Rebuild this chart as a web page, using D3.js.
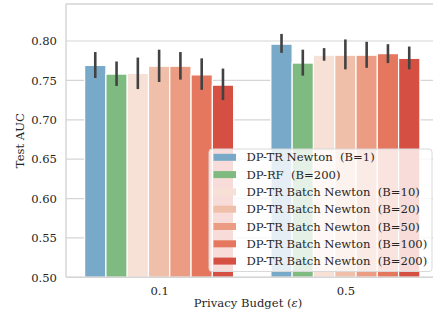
<!DOCTYPE html>
<html lang="en">
<head>
<meta charset="UTF-8">
<title>Test AUC by privacy budget</title>
<script src="https://d3js.org/d3.v7.min.js"></script>
<style>
    body { margin: 0; background: #fff; }
    text { font-family: "DejaVu Serif", serif; fill: #262626; }
</style>
</head>
<body>
<svg width="433" height="320"></svg>
<script>
    const budgets = ["0.1", "0.5"];
    const methods = [
        "DP-TR Newton  (B=1)",
        "DP-RF  (B=200)",
        "DP-TR Batch Newton  (B=10)",
        "DP-TR Batch Newton  (B=20)",
        "DP-TR Batch Newton  (B=50)",
        "DP-TR Batch Newton  (B=100)",
        "DP-TR Batch Newton  (B=200)"
    ];
    const colors = ["#78a9c8", "#7fba80", "#f7e0d5", "#f0bfaa", "#eb9c82", "#e5775f", "#d54f43"];

    // mean AUC and error bar ends, per budget
    const auc01 = [0.769, 0.758, 0.759, 0.768, 0.768, 0.757, 0.744];
    const lo01 = [0.753, 0.743, 0.739, 0.748, 0.751, 0.738, 0.725];
    const hi01 = [0.786, 0.774, 0.779, 0.789, 0.786, 0.778, 0.765];
    const auc05 = [0.796, 0.772, 0.782, 0.782, 0.782, 0.784, 0.778];
    const lo05 = [0.785, 0.756, 0.775, 0.764, 0.766, 0.772, 0.764];
    const hi05 = [0.809, 0.789, 0.791, 0.802, 0.799, 0.796, 0.793];
    const yTicks = [0.50, 0.55, 0.60, 0.65, 0.70, 0.75, 0.80];

    const rows = [];
    methods.forEach((m, i) => {
        rows.push({ budget: "0.1", method: m, i, v: auc01[i], lo: lo01[i], hi: hi01[i] });
        rows.push({ budget: "0.5", method: m, i, v: auc05[i], lo: lo05[i], hi: hi05[i] });
    });

    const margin = { left: 66, right: 438.5, top: 4, bottom: 277.3 };
    const svg = d3.select("svg");

    const x = d3.scalePoint().domain(budgets).range([margin.left, margin.right]).padding(0.5);
    const step = x.step();
    const xi = d3.scaleBand().domain(methods).range([-0.4 * step, 0.4 * step]);
    const y = d3.scaleLinear().domain([0.5, 0.847]).range([margin.bottom, margin.top]);

    // grid
    svg.append("g").selectAll("line").data(yTicks).join("line")
        .attr("x1", margin.left).attr("x2", 433)
        .attr("y1", d => y(d)).attr("y2", d => y(d))
        .attr("stroke", "#d5d5d5").attr("stroke-width", 1.2);

    // bars
    svg.append("g").selectAll("rect").data(rows).join("rect")
        .attr("x", d => x(d.budget) + xi(d.method))
        .attr("width", xi.bandwidth())
        .attr("y", d => y(d.v))
        .attr("height", d => y(0.5) - y(d.v))
        .attr("fill", d => colors[d.i])
        .attr("stroke", "#fff").attr("stroke-width", 1.2);

    // error bars
    svg.append("g").selectAll("line").data(rows).join("line")
        .attr("x1", d => x(d.budget) + xi(d.method) + xi.bandwidth() / 2)
        .attr("x2", d => x(d.budget) + xi(d.method) + xi.bandwidth() / 2)
        .attr("y1", d => y(d.lo)).attr("y2", d => y(d.hi))
        .attr("stroke", "#424242").attr("stroke-width", 2.6);

    // spines
    const sp = svg.append("g").attr("stroke", "#d5d5d5").attr("stroke-width", 1.4).attr("fill", "none");
    sp.append("line").attr("x1", margin.left).attr("x2", margin.left).attr("y1", margin.top).attr("y2", margin.bottom);
    sp.append("line").attr("x1", margin.left).attr("x2", 433).attr("y1", margin.bottom).attr("y2", margin.bottom);
    sp.append("line").attr("x1", margin.left).attr("x2", 433).attr("y1", margin.top).attr("y2", margin.top);

    // axes
    const yAxis = svg.append("g").attr("transform", `translate(${margin.left},0)`)
        .call(d3.axisLeft(y).tickValues(yTicks).tickFormat(d3.format(".2f")).tickSize(0).tickPadding(9));
    const xAxis = svg.append("g").attr("transform", `translate(0,${margin.bottom})`)
        .call(d3.axisBottom(x).tickSize(0).tickPadding(9));
    [yAxis, xAxis].forEach(a => {
        a.select(".domain").remove();
        a.selectAll("text").style("font-family", "DejaVu Serif").style("font-size", "11.6px").attr("fill", "#262626");
    });

    svg.append("text")
        .attr("transform", `translate(20,${(margin.top + margin.bottom) / 2}) rotate(-90)`)
        .attr("text-anchor", "middle").attr("dy", "0.35em")
        .style("font-size", "11.6px").text("Test AUC");

    const xl = svg.append("text")
        .attr("x", 248).attr("y", 307)
        .attr("text-anchor", "middle")
        .style("font-size", "11.6px");
    xl.append("tspan").text("Privacy Budget (");
    xl.append("tspan").style("font-style", "italic").text("ε");
    xl.append("tspan").text(")");

    // legend
    const lg = svg.append("g");
    lg.append("rect")
        .attr("x", 209).attr("y", 149).attr("width", 223).attr("height", 122.5)
        .attr("rx", 3).attr("fill", "#fff").attr("fill-opacity", 0.8)
        .attr("stroke", "#d9d9d9").attr("stroke-width", 1);
    const item = lg.selectAll("g.item").data(methods).join("g")
        .attr("class", "item")
        .attr("transform", (d, i) => `translate(0,${157.3 + i * 17.3})`);
    item.append("rect")
        .attr("x", 213.5).attr("y", -3.5).attr("width", 22.5).attr("height", 7)
        .attr("fill", (d, i) => colors[i]);
    item.append("text")
        .attr("x", 246.5).attr("dy", "0.35em")
        .style("font-size", "11.6px")
        .style("white-space", "pre")
        .text(d => d);
</script>
</body>
</html>
